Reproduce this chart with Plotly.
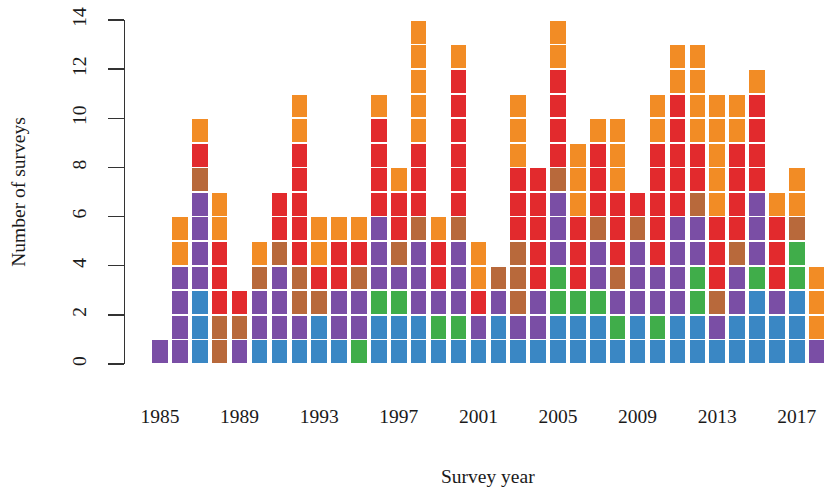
import plotly.graph_objects as go

years = list(range(1985, 2019))

# counts per survey category (bottom to top of each stack)
blue   = [0,0,3,0,0,1,1,1,2,1,0,2,2,2,1,1,1,2,1,1,2,2,2,1,2,1,2,2,1,2,3,2,3,0]
green  = [0,0,0,0,0,0,0,0,0,0,1,1,1,0,1,1,0,0,0,0,2,1,1,1,0,1,0,2,0,0,1,0,2,0]
purple = [1,4,4,0,1,2,3,1,0,2,2,3,1,3,1,3,1,1,1,2,3,0,2,1,3,2,4,2,1,2,3,1,0,1]
brown  = [0,0,1,2,1,1,1,2,1,0,1,0,1,1,0,1,0,1,3,0,1,0,1,1,1,0,0,1,1,1,0,0,1,0]
red    = [0,0,1,3,1,0,2,5,1,2,1,4,2,3,2,6,1,0,3,5,4,3,3,3,1,5,5,2,3,4,4,3,0,0]
orange = [0,2,1,2,0,1,0,2,2,1,1,1,1,5,1,1,2,0,3,0,2,3,1,3,0,2,2,4,5,2,1,1,2,3]

series = [
    ("blue", blue, "#3a87c4"),
    ("green", green, "#40ad4a"),
    ("purple", purple, "#7a4ea5"),
    ("brown", brown, "#b8693b"),
    ("red", red, "#e22a2d"),
    ("orange", orange, "#f28c25"),
]

tick_years = list(range(1985, 2018, 4))

fig = go.Figure()
for name, counts, color in series:
    for k in range(1, max(counts) + 1):
        fig.add_trace(go.Bar(
            x=years,
            y=[1 if c >= k else None for c in counts],
            marker=dict(color=color, line=dict(color="white", width=1.6)),
            width=0.86,
            name=name,
            showlegend=False,
            hoverinfo="skip",
        ))

font_family = "Liberation Serif"
FS = 19.5
L, T, B = 125, 20, 123
W, H = 824, 487
fig.update_layout(
    barmode="stack",
    width=W, height=H,
    margin=dict(l=L, r=0, t=T, b=B),
    paper_bgcolor="white", plot_bgcolor="white",
    font=dict(family=font_family, size=FS, color="#1a1a1a"),
    xaxis=dict(
        range=[1983.24, 2018.37],
        tickvals=tick_years,
        ticktext=[str(y) for y in tick_years],
        showline=False, showgrid=False, zeroline=False,
        ticks="", ticklabelstandoff=38,
        tickfont=dict(size=FS),
    ),
    yaxis=dict(
        range=[0, 14],
        tickvals=list(range(0, 15, 2)),
        showline=True, linecolor="#333", linewidth=1.3,
        ticks="outside", ticklen=16, tickcolor="#333", tickwidth=1.3,
        tickangle=-90, ticklabelstandoff=14,
        showgrid=False, zeroline=False,
        tickfont=dict(size=FS),
        title=dict(text="Number of surveys", font=dict(size=FS), standoff=38),
    ),
)
plot_w = W - L
plot_h = H - T - B
fig.add_annotation(
    text="Survey year",
    x=(488 - L) / plot_w, y=(H - B - 476) / plot_h,
    xref="paper", yref="paper", xanchor="center", yanchor="middle",
    showarrow=False, font=dict(size=FS),
)

fig.write_html(
    "out.html",
    config={"displayModeBar": False, "staticPlot": True},
    post_script="document.body.style.margin='0';document.body.style.overflow='hidden';",
)
